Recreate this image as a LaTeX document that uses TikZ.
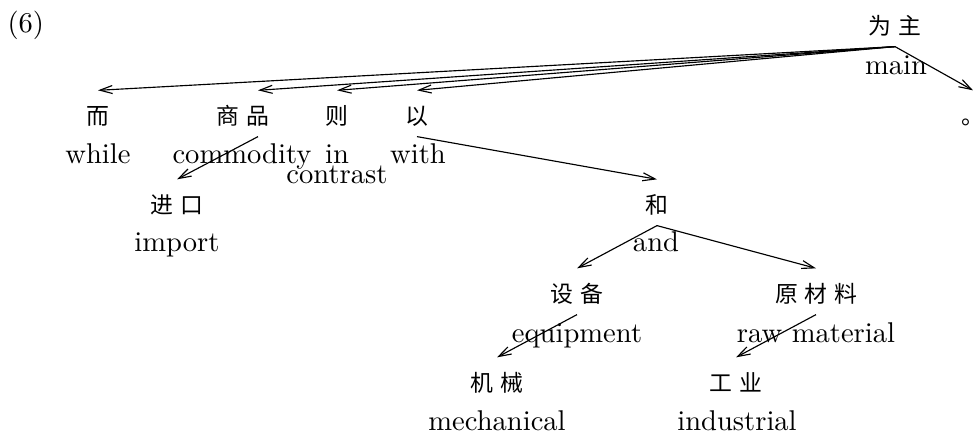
\documentclass[tikz,border=0pt]{standalone}
\usepackage{fontspec}
\newfontfamily\cjk{Noto Sans CJK SC}
\usetikzlibrary{arrows.meta}
\newcommand\zg{\hspace{2.3pt}}
\begin{document}
\begin{tikzpicture}[x=0.35pt,y=-0.35pt,
  zh/.style={font=\cjk\fontsize{8}{8}\selectfont, inner sep=0pt, text height=11.8pt, text depth=4pt, anchor=base},
  en/.style={font=\fontsize{10}{12}\selectfont, inner sep=0pt, anchor=base},
  dep/.style={-{Straight Barb[length=4.4pt,width=2.8pt]}, line width=0.4pt}]
\useasboundingbox (0,0) rectangle (973,440);
\node[en, anchor=base west] (num) at (7,32) {(6)};
% Chinese words
\node[zh] (root) at (895,34.6) {为\zg{}主};
\node[zh] (c1) at (98,124.6) {而};
\node[zh] (c2) at (243,124.6) {商\zg{}品};
\node[zh] (c3) at (337,124.6) {则};
\node[zh] (c4) at (417,124.6) {以};
\node[zh] (c5) at (973,124.6) {。};
\node[zh] (c6) at (177,213.6) {进\zg{}口};
\node[zh] (c7) at (657,213.6) {和};
\node[zh] (c8) at (577,302.6) {设\zg{}备};
\node[zh] (c9) at (816,302.6) {原\zg{}材\zg{}料};
\node[zh] (c10) at (497,391.6) {机\zg{}械};
\node[zh] (c11) at (736,391.6) {工\zg{}业};
% English glosses
\node[en] (eroot) at (896,74) {main};
\node[en] (e1) at (98,163) {while};
\node[en] (e2) at (242,163) {commodity};
\node[en] (e3) at (337,163) {\begin{tabular}[t]{@{}c@{}}in\\[-5pt]contrast\end{tabular}};
\node[en] (e4) at (418,163) {with};
\node[en] (e6) at (177,251) {import};
\node[en] (e7) at (656,251) {and};
\node[en] (e8) at (577,342) {equipment};
\node[en] (e9) at (816,342) {raw material};
\node[en] (e10) at (497,430) {mechanical};
\node[en] (e11) at (737,430) {industrial};
% dependencies
\draw[dep] (root.south) -- (c1.north);
\draw[dep] (root.south) -- ([xshift=5.25pt]c2.north);
\draw[dep] (root.south) -- (c3.north);
\draw[dep] (root.south) -- (c4.north);
\draw[dep] (root.south) -- (c5.north);
\draw[dep] ([xshift=5.25pt]c2.south) -- (c6.north);
\draw[dep] (c4.south) -- (c7.north);
\draw[dep] (c7.south) -- (c8.north);
\draw[dep] (c7.south) -- (c9.north);
\draw[dep] (c8.south) -- (c10.north);
\draw[dep] (c9.south) -- (c11.north);
\end{tikzpicture}
\end{document}
